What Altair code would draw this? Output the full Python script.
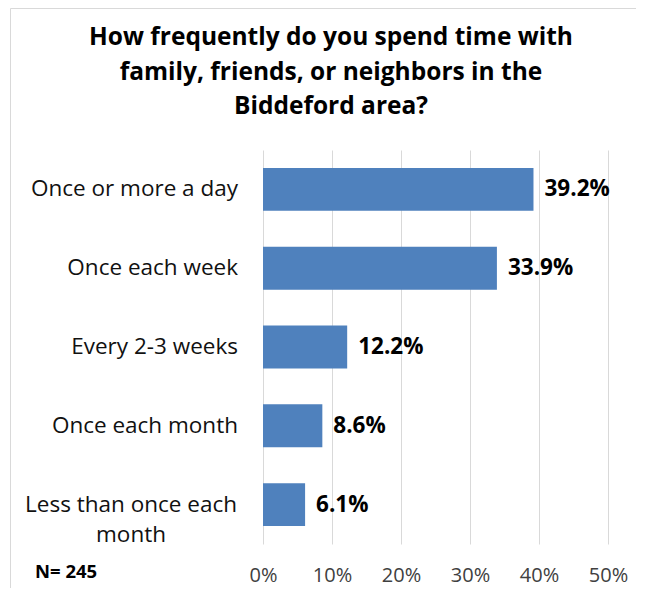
import altair as alt
import pandas as pd

categories = ["Once or more a day", "Once each week", "Every 2-3 weeks",
              "Once each month", "Less than once each month"]
display_labels = ["Once or more a day", "Once each week", "Every 2-3 weeks",
                  "Once each month", "Less than once each\nmonth"]
values = [39.2, 33.9, 12.2, 8.6, 6.1]
value_labels = ["39.2%", "33.9%", "12.2%", "8.6%", "6.1%"]
x_ticks = [0, 10, 20, 30, 40, 50]
title_text = ("How frequently do you spend time with\n"
              "family, friends, or neighbors in the\n"
              "Biddeford area?")
note = "N= 245"

df = pd.DataFrame({
    "category": categories,
    "label": display_labels,
    "value": values,
    "vlabel": value_labels,
    "multi": [("\n" in s) for s in display_labels],
})

FONT = "Open Sans"
BLUE = "#4f81bd"

y_enc = alt.Y("category:N", sort=categories, axis=None,
              scale=alt.Scale(paddingInner=0.455, paddingOuter=0.2275))
x_enc = alt.X("value:Q", scale=alt.Scale(domain=[0, 50], nice=False),
              axis=alt.Axis(values=x_ticks, labelExpr="datum.value + '%'",
                            grid=True, gridColor="#d9d9d9", gridWidth=1,
                            domain=False, ticks=False, labelPadding=21,
                            labelFlush=False,
                            labelFontSize=20, labelColor="#404040",
                            labelFont=FONT, title=None))

base = alt.Chart(df)

bars = base.mark_bar(color=BLUE).encode(x=x_enc, y=y_enc)

vals = base.mark_text(align="left", baseline="middle", dx=11, fontSize=22.5,
                      fontWeight="bold", font=FONT, color="#000000").encode(
    x="value:Q", y=alt.Y("category:N", sort=categories), text="vlabel:N")

ylab_single = base.transform_filter("!datum.multi").mark_text(
    align="right", baseline="middle", fontSize=22.5, font=FONT,
    color="#111111").encode(
    x=alt.value(-25), y=alt.Y("category:N", sort=categories), text="label:N")

ylab_multi = base.transform_filter("datum.multi").mark_text(
    align="center", baseline="middle", fontSize=22.5, font=FONT,
    color="#111111", lineBreak="\n", lineHeight=30).encode(
    x=alt.value(-132), y=alt.Y("category:N", sort=categories), text="label:N")

extra_df = pd.DataFrame({"title": [title_text], "note": [note]})

title = alt.Chart(extra_df).mark_text(
    align="center", baseline="alphabetic", fontSize=24.5, fontWeight="bold",
    font=FONT, color="#000000", lineBreak="\n", lineHeight=34.5).encode(
    x=alt.value(68), y=alt.value(-105), text="title:N")

note_mark = alt.Chart(extra_df).mark_text(
    align="left", baseline="middle", fontSize=18.5, fontWeight="bold",
    font=FONT, color="#000000").encode(
    x=alt.value(-228), y=alt.value(422), text="note:N")

border = alt.Chart(extra_df).mark_rect(
    fill="transparent", stroke="#d9d9d9", strokeWidth=1).encode(
    x=alt.value(-252.5), x2=alt.value(400), y=alt.value(-141.5), y2=alt.value(600))

chart = alt.layer(border, bars, vals, ylab_single, ylab_multi, title, note_mark).properties(
    width=345, height=394,
    autosize=alt.AutoSizeParams(type="none"),
    padding={"left": 255, "top": 142, "right": 28, "bottom": 44},
).configure_view(stroke=None)

chart.save("out.html", embed_options={"renderer": "svg", "actions": False})
